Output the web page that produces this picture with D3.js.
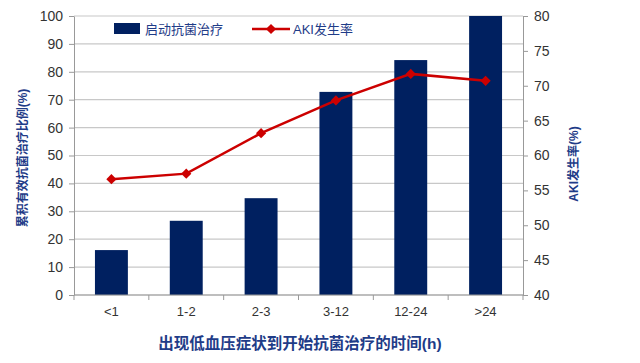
<!DOCTYPE html>
<html><head><meta charset="utf-8">
<script src="https://cdn.jsdelivr.net/npm/d3@7/dist/d3.min.js"></script>
<style>body{margin:0;background:#fff;} text{font-family:"Liberation Sans","Noto Sans CJK SC",sans-serif;}</style>
</head><body><svg id="c" width="640" height="363"></svg>
<script>
const categories = ["<1","1-2","2-3","3-12","12-24",">24"];
const barValues = [16.1, 26.6, 34.7, 72.8, 84.2, 100];
const akiValues = [56.6, 57.4, 63.2, 67.9, 71.7, 70.7];
const leftTicks = [0,10,20,30,40,50,60,70,80,90,100];
const rightTicks = [40,45,50,55,60,65,70,75,80];
const barName = "启动抗菌治疗", lineName = "AKI发生率";
const leftTitle = "累积有效抗菌治疗比例(%)", rightTitle = "AKI发生率(%)";
const xTitle = "出现低血压症状到开始抗菌治疗的时间(h)";

const svg = d3.select("#c");
const L = 74, R = 523, T = 16, B = 295;
const x = d3.scaleBand().domain(categories).range([L, R]).paddingInner(0.56).paddingOuter(0.28);
const yL = d3.scaleLinear().domain([0,100]).range([B, T]);
const yR = d3.scaleLinear().domain([40,80]).range([B, T]);
const navy = "#002060", red = "#cc0000", titleCol = "#1f3c88";

// gridlines
svg.append("g").selectAll("line").data(leftTicks).join("line")
  .attr("x1", L).attr("x2", R).attr("y1", d=>yL(d)).attr("y2", d=>yL(d))
  .attr("stroke", "#c8c8c8").attr("stroke-width", 1.2);

// bars
svg.append("g").selectAll("rect").data(barValues).join("rect")
  .attr("x", (d,i)=>x(categories[i])).attr("width", x.bandwidth())
  .attr("y", d=>yL(d)).attr("height", d=>B - yL(d)).attr("fill", navy);

// axes
const axStyle = g => { g.selectAll("path,line").attr("stroke","#999"); g.selectAll("text").attr("fill","#333").attr("font-size",13); };
svg.append("g").attr("transform",`translate(${L},0)`)
  .call(d3.axisLeft(yL).tickValues(leftTicks).tickSize(5).tickSizeOuter(0).tickPadding(6)).call(axStyle)
  .call(g=>g.selectAll("text").attr("font-size",14));
svg.append("g").attr("transform",`translate(${R},0)`)
  .call(d3.axisRight(yR).tickValues(rightTicks).tickSize(5).tickSizeOuter(0).tickPadding(6)).call(axStyle)
  .call(g=>g.selectAll("text").attr("font-size",14));
const xa = svg.append("g").attr("transform",`translate(0,${B})`)
  .call(d3.axisBottom(x).tickSize(0).tickPadding(12)).call(axStyle);
xa.select(".domain").remove();
svg.append("line").attr("x1",L).attr("x2",R).attr("y1",B).attr("y2",B).attr("stroke","#999");
svg.append("g").selectAll("line").data(d3.range(categories.length+1)).join("line")
  .attr("x1", i=>L + i*(R-L)/categories.length).attr("x2", i=>L + i*(R-L)/categories.length)
  .attr("y1", B).attr("y2", B+5).attr("stroke","#999");

// line
const line = d3.line().x((d,i)=>x(categories[i]) + x.bandwidth()/2).y(d=>yR(d));
svg.append("path").datum(akiValues).attr("d", line).attr("fill","none").attr("stroke",red).attr("stroke-width",2.5);
const diamond = d3.symbol().type(d3.symbolSquare).size(52);
svg.append("g").selectAll("path").data(akiValues).join("path")
  .attr("transform",(d,i)=>`translate(${x(categories[i]) + x.bandwidth()/2},${yR(d)}) rotate(45)`)
  .attr("d", diamond).attr("fill", red);

// legend
const lg = svg.append("g");
lg.append("rect").attr("x",114).attr("y",23).attr("width",26).attr("height",11).attr("fill",navy);
lg.append("text").attr("x",145).attr("y",33.5).attr("font-size",13).attr("fill",titleCol).text(barName);
lg.append("line").attr("x1",252).attr("x2",290).attr("y1",29).attr("y2",29).attr("stroke",red).attr("stroke-width",2.5);
lg.append("path").attr("transform","translate(271,29) rotate(45)").attr("d",diamond).attr("fill",red);
lg.append("text").attr("x",293).attr("y",33.5).attr("font-size",13).attr("fill",titleCol).text(lineName);

// titles
svg.append("text").attr("transform","translate(27,158) rotate(-90)").attr("text-anchor","middle")
  .attr("font-size",12).attr("font-weight","bold").attr("fill",titleCol).text(leftTitle);
svg.append("text").attr("transform","translate(578,164) rotate(-90)").attr("text-anchor","middle")
  .attr("font-size",12).attr("font-weight","bold").attr("fill",titleCol).text(rightTitle);
svg.append("text").attr("x",300).attr("y",349).attr("text-anchor","middle")
  .attr("font-size",15.5).attr("font-weight","bold").attr("fill",titleCol).text(xTitle);
</script></body></html>
